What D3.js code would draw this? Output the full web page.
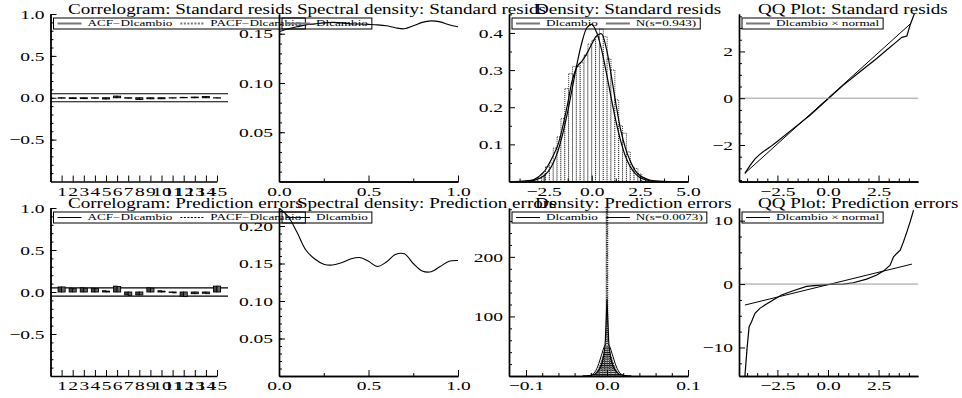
<!DOCTYPE html>
<html>
<head>
<meta charset="utf-8">
<script src="https://cdn.jsdelivr.net/npm/d3@7"></script>
<style>
  body { margin: 0; background: #fff; }
  svg { font-family: "Liberation Serif", "Times New Roman", serif; }
</style>
</head>
<body>
<svg id="chart" width="962" height="398"></svg>
<script>
// ---- data ----
const lags = [1, 2, 3, 4, 5, 6, 7, 8, 9, 10, 11, 12, 13, 14, 15];
const acfResids  = [-0.005, -0.010, -0.010, -0.005, -0.015, 0.020, -0.005, -0.020, -0.012, -0.012, -0.003, 0.005, 0.008, 0.015, -0.003];
const pacfResids = [-0.005, -0.010, -0.011, -0.006, -0.015, 0.019, -0.006, -0.021, -0.013, -0.012, -0.004, 0.004, 0.008, 0.014, -0.004];
const acfErrors  = [0.060, 0.045, 0.050, 0.045, 0.015, 0.070, -0.035, -0.035, 0.050, 0.015, -0.005, -0.050, -0.020, -0.015, 0.070];
const pacfErrors = [0.060, 0.040, 0.045, 0.040, 0.010, 0.065, -0.040, -0.035, 0.045, 0.010, -0.010, -0.055, -0.020, -0.020, 0.070];
const seBand = 0.048;

const freq = [0, 0.05, 0.10, 0.15, 0.20, 0.25, 0.30, 0.35, 0.40, 0.45, 0.50, 0.55, 0.60, 0.65, 0.70, 0.75, 0.80, 0.85, 0.90, 0.95, 1.00];
const specResids = [0.152, 0.155, 0.157, 0.159, 0.160, 0.161, 0.1615, 0.161, 0.160, 0.1599, 0.1595, 0.159, 0.158, 0.156, 0.155, 0.158, 0.1615, 0.163, 0.162, 0.159, 0.157];
const specErrors = [0.224, 0.213, 0.192, 0.168, 0.156, 0.149, 0.148, 0.151, 0.156, 0.158, 0.153, 0.146, 0.152, 0.162, 0.163, 0.150, 0.140, 0.139, 0.146, 0.153, 0.154];

const densGrid = [-4, -3.5, -3, -2.5, -2.25, -2, -1.75, -1.5, -1.25, -1, -0.75, -0.5, -0.25, 0, 0.25, 0.5, 0.75, 1, 1.25, 1.5, 1.75, 2, 2.25, 2.5, 3, 3.5, 4];
const kernelResids = [0.000, 0.001, 0.005, 0.025, 0.045, 0.070, 0.100, 0.150, 0.210, 0.275, 0.310, 0.325, 0.345, 0.370, 0.392, 0.398, 0.360, 0.290, 0.210, 0.140, 0.090, 0.055, 0.030, 0.016, 0.004, 0.001, 0.000];
const normalResids = [0.000, 0.0005, 0.003, 0.015, 0.028, 0.050, 0.083, 0.130, 0.188, 0.255, 0.321, 0.377, 0.414, 0.423, 0.402, 0.357, 0.295, 0.228, 0.164, 0.110, 0.068, 0.040, 0.022, 0.011, 0.002, 0.000, 0.000];
const histResidsMid = [-2.9, -2.7, -2.5, -2.3, -2.1, -1.9, -1.7, -1.5, -1.3, -1.1, -0.9, -0.7, -0.5, -0.3, -0.1, 0.1, 0.3, 0.5, 0.7, 0.9, 1.1, 1.3, 1.5, 1.7, 1.9, 2.1, 2.3, 2.5, 2.7, 2.9];
const histResids = [0.005, 0.010, 0.020, 0.040, 0.050, 0.090, 0.120, 0.170, 0.250, 0.290, 0.310, 0.310, 0.320, 0.340, 0.370, 0.380, 0.390, 0.410, 0.390, 0.330, 0.300, 0.220, 0.150, 0.130, 0.080, 0.040, 0.035, 0.020, 0.010, 0.005];
const histResidsWidth = 0.2;

const densGridErr = [-0.03, -0.025, -0.02, -0.0175, -0.015, -0.0125, -0.01, -0.0075, -0.006, -0.005, -0.004, -0.0025, -0.002, -0.001, 0, 0.001, 0.002, 0.0025, 0.004, 0.005, 0.006, 0.0075, 0.01, 0.0125, 0.015, 0.0175, 0.02, 0.025, 0.03];
const kernelErrors = [0, 0.3, 1, 2, 3, 6, 10, 16, 22, 28, 35, 50, 60, 95, 128, 95, 60, 50, 35, 28, 22, 16, 10, 6, 3, 2, 1, 0.3, 0];
const normalErrors = [0, 0.2, 1.3, 3.1, 6.6, 12.6, 21.4, 32.2, 38.5, 43.2, 47.5, 51.5, 52.5, 54.1, 54.6, 54.1, 52.5, 51.5, 47.5, 43.2, 38.5, 32.2, 21.4, 12.6, 6.6, 3.1, 1.3, 0.2, 0];
const histErrorsMid = [-0.018, -0.016, -0.014, -0.012, -0.010, -0.008, -0.006, -0.004, -0.002, 0, 0.002, 0.004, 0.006, 0.008, 0.010, 0.012, 0.014, 0.016, 0.018];
const histErrors = [4, 6, 9, 13, 18, 25, 33, 42, 50, 400, 48, 40, 31, 23, 16, 11, 7, 4, 2];
const histErrorsWidth = 0.002;

const qqResidsX = [-4.11, -3.86, -3.61, -3.37, -3.12, -2.87, -2.54, -1.72, -0.89, 0.02, 0.76, 1.58, 2.41, 2.90, 3.40, 3.65, 3.90, 4.06, 4.31];
const qqResidsY = [-3.21, -2.88, -2.59, -2.40, -2.23, -2.09, -1.87, -1.30, -0.73, -0.01, 0.56, 1.13, 1.70, 2.06, 2.42, 2.60, 2.66, 3.13, 3.70];
const qqResidsRefX = [-4.11, 4.10];
const qqResidsRefY = [-3.21, 3.20];
const qqErrorsX = [-4.11, -4.00, -3.90, -3.78, -3.61, -3.37, -3.12, -2.71, -2.30, -1.72, -1.06, -0.40, 0.10, 0.76, 1.25, 1.91, 2.41, 2.74, 3.07, 3.24, 3.40, 3.57, 3.73, 3.90, 4.06, 4.23];
const qqErrorsY = [-14.6, -10.1, -6.72, -5.93, -4.62, -3.83, -3.31, -2.52, -1.73, -1.05, -0.37, -0.16, -0.05, 0.00, 0.21, 0.79, 1.42, 2.05, 2.99, 4.30, 4.83, 5.35, 6.66, 8.24, 9.81, 11.65];
const qqErrorsRefX = [-4.11, 4.15];
const qqErrorsRefY = [-3.31, 3.15];

// ---- layout ----
const svg = d3.select("#chart");
const colX = [[50.5, 217], [279, 458], [509, 688], [739, 918]];
const rowY = [[181.5, 14], [376, 208]];
const titleX = [68, 297, 535, 758];          // titles start here, left aligned
const tickFont = 13, tickStretch = 1.5;      // the picture's type is wide and short
const titleFont = 14, titleStretch = 1.36;
const legFont = 8.6, legStretch = 1.53;

const defs = svg.append("defs");
const hatch = defs.append("pattern")
    .attr("id", "hatch").attr("patternUnits", "userSpaceOnUse")
    .attr("width", 4).attr("height", 2.2);
hatch.append("rect").attr("width", 4).attr("height", 2.2).attr("fill", "#fff");
hatch.append("line").attr("x1", 0).attr("x2", 4).attr("y1", 0.5).attr("y2", 0.5)
    .attr("stroke", "#000").attr("stroke-width", 1);

let clipId = 0;
function panel(col, row, xDomain, yDomain) {
    const x = d3.scaleLinear().domain(xDomain).range(colX[col]);
    const y = d3.scaleLinear().domain(yDomain).range(rowY[row]);
    const g = svg.append("g");
    const id = "clip" + (clipId++);
    defs.append("clipPath").attr("id", id).append("rect")
        .attr("x", colX[col][0]).attr("y", rowY[row][1])
        .attr("width", colX[col][1] - colX[col][0] + 12)
        .attr("height", rowY[row][0] - rowY[row][1]);
    const plot = g.append("g").attr("clip-path", `url(#${id})`);
    return {x, y, g, plot};
}

function styleAxis(sel) {
    sel.attr("font-family", null).attr("font-size", null);
    sel.select(".domain").attr("stroke", "#000").attr("stroke-width", 1.4);
    sel.selectAll(".tick line").attr("stroke", "#000").attr("stroke-width", 1);
    sel.selectAll(".tick text").attr("font-size", tickFont).attr("fill", "#000")
        .attr("transform", `scale(${tickStretch},1)`);
}

function axes(p, xMajor, xMinor, xFmt, yMajor, yMinor, yFmt) {
    const y0 = p.y.range()[0], x0 = p.x.range()[0];
    if (xMinor) p.g.append("g").attr("transform", `translate(0,${y0})`)
        .call(d3.axisBottom(p.x).tickValues(xMinor).tickSize(-3).tickSizeOuter(0).tickFormat(""))
        .call(styleAxis);
    p.g.append("g").attr("transform", `translate(0,${y0})`)
        .call(d3.axisBottom(p.x).tickValues(xMajor).tickSize(-6).tickSizeOuter(0).tickPadding(5).tickFormat(d3.format(xFmt)))
        .call(styleAxis);
    if (yMinor) p.g.append("g").attr("transform", `translate(${x0},0)`)
        .call(d3.axisLeft(p.y).tickValues(yMinor).tickSize(-3).tickSizeOuter(0).tickFormat(""))
        .call(styleAxis);
    p.g.append("g").attr("transform", `translate(${x0},0)`)
        .call(d3.axisLeft(p.y).tickValues(yMajor).tickSize(-6).tickSizeOuter(0).tickPadding(4).tickFormat(d3.format(yFmt)))
        .call(styleAxis);
}

function title(col, row, text) {
    svg.append("text")
        .attr("transform", `translate(${titleX[col]},${rowY[row][1] - 0.5}) scale(${titleStretch},1)`)
        .attr("font-size", titleFont).text(text);
}

// legend: items = [{text, dash, color, width}]
function legend(col, row, items) {
    const lx = colX[col][0] + 3, ly = rowY[row][1] + 4, h = 11;
    const lg = svg.append("g");
    const box = lg.append("rect").attr("x", lx).attr("y", ly).attr("height", h)
        .attr("fill", "none").attr("stroke", "#000").attr("stroke-width", 1);
    let cx = lx + 4;
    items.forEach(it => {
        lg.append("line").attr("x1", cx).attr("x2", cx + 24).attr("y1", ly + h / 2).attr("y2", ly + h / 2)
            .attr("stroke", it.color).attr("stroke-width", it.width)
            .attr("stroke-dasharray", it.dash || null);
        const t = lg.append("text")
            .attr("transform", `translate(${cx + 30},${ly + h - 2.6}) scale(${legStretch},1)`)
            .attr("font-size", legFont).text(it.text);
        cx += 30 + t.node().getComputedTextLength() * legStretch + 8;
    });
    box.attr("width", cx - lx - 4);
}

const line = (x, y) => d3.line().x(d => x(d[0])).y(d => y(d[1])).curve(d3.curveCatmullRom);
const straight = (x, y) => d3.line().x(d => x(d[0])).y(d => y(d[1]));

// ---- correlograms ----
function correlogram(row, acf, pacf, name) {
    const p = panel(0, row, [0, 15], [-1, 1]);
    [seBand, -seBand].forEach(v => {
        p.g.append("line").attr("x1", p.x(0)).attr("x2", p.x(15) + 11)
            .attr("y1", p.y(v)).attr("y2", p.y(v)).attr("stroke", "#000").attr("stroke-width", 1.2);
    });
    p.g.selectAll(null).data(lags).enter().append("rect")
        .attr("x", d => p.x(d - 0.32)).attr("width", p.x(0.32) - p.x(0))
        .attr("y", (d, i) => p.y(Math.max(0, acf[i])))
        .attr("height", (d, i) => Math.abs(p.y(acf[i]) - p.y(0)))
        .attr("fill", "#444").attr("stroke", "#000").attr("stroke-width", 0.9);
    p.g.selectAll(null).data(lags).enter().append("rect")
        .attr("x", d => p.x(d)).attr("width", p.x(0.32) - p.x(0))
        .attr("y", (d, i) => p.y(Math.max(0, pacf[i])))
        .attr("height", (d, i) => Math.abs(p.y(pacf[i]) - p.y(0)))
        .attr("fill", "#666").attr("stroke", "#000").attr("stroke-width", 0.9);
    axes(p, lags, null, "d", [-0.5, 0, 0.5, 1], d3.range(-0.9, 1.0001, 0.1).map(v => +v.toFixed(1)), ".1f");
    title(0, row, "Correlogram: " + name);
    const c = row === 0 ? "#777" : "#000", w = row === 0 ? 2 : 1;
    legend(0, row, [{text: "ACF\u2212Dlcambio", color: c, width: w},
                    {text: "PACF\u2212Dlcambio", color: c, width: w, dash: "2,1.5"}]);
}
correlogram(0, acfResids, pacfResids, "Standard resids");
correlogram(1, acfErrors, pacfErrors, "Prediction errors");

// ---- spectral densities ----
function spectral(row, vals, yMax, yMajor, name) {
    const p = panel(1, row, [0, 1], [0, yMax]);
    p.plot.append("path").datum(freq.map((f, i) => [f, vals[i]]))
        .attr("fill", "none").attr("stroke", "#000").attr("stroke-width", 1.1)
        .attr("d", line(p.x, p.y));
    axes(p, [0, 0.5, 1], [0.25, 0.75], ".1f", yMajor,
         d3.range(0.01, yMax, 0.01).map(v => +v.toFixed(2)), ".2f");
    title(1, row, "Spectral density: " + name);
    const c = row === 0 ? "#777" : "#000", w = row === 0 ? 2 : 1;
    legend(1, row, [{text: "Dlcambio", color: c, width: w}]);
}
spectral(0, specResids, 0.170, [0.05, 0.10, 0.15], "Standard resids");
spectral(1, specErrors, 0.224, [0.05, 0.10, 0.15, 0.20], "Prediction errors");

// ---- densities ----
{
    const p = panel(2, 0, [-4.3, 5.0], [0, 0.451]);
    p.plot.selectAll(null).data(histResidsMid).enter().append("rect")
        .attr("x", d => p.x(d - histResidsWidth / 2))
        .attr("width", p.x(histResidsWidth) - p.x(0))
        .attr("y", (d, i) => p.y(histResids[i]))
        .attr("height", (d, i) => p.y(0) - p.y(histResids[i]))
        .attr("fill", "#fff").attr("stroke", "#000").attr("stroke-width", 0.8)
        .attr("stroke-dasharray", "1,1");
    p.plot.append("path").datum(densGrid.map((v, i) => [v, normalResids[i]]))
        .attr("fill", "none").attr("stroke", "#000").attr("stroke-width", 1.2).attr("d", line(p.x, p.y));
    p.plot.append("path").datum(densGrid.map((v, i) => [v, kernelResids[i]]))
        .attr("fill", "none").attr("stroke", "#000").attr("stroke-width", 1.2).attr("d", line(p.x, p.y));
    axes(p, [-2.5, 0, 2.5, 5], [-3.75, -1.25, 1.25, 3.75], ".1f",
         [0.1, 0.2, 0.3, 0.4], [0.05, 0.15, 0.25, 0.35, 0.45], ".1f");
    title(2, 0, "Density: Standard resids");
    legend(2, 0, [{text: "Dlcambio", color: "#777", width: 2}, {text: "N(s=0.943)", color: "#777", width: 2}]);
}
{
    const p = panel(2, 1, [-0.121, 0.1], [0, 282]);
    p.plot.selectAll(null).data(histErrorsMid).enter().append("rect")
        .attr("x", d => p.x(d - histErrorsWidth / 2))
        .attr("width", p.x(histErrorsWidth) - p.x(0))
        .attr("y", (d, i) => p.y(histErrors[i]))
        .attr("height", (d, i) => p.y(0) - p.y(histErrors[i]))
        .attr("fill", "url(#hatch)").attr("stroke", "#000").attr("stroke-width", 0.8)
        .attr("stroke-dasharray", "1,1");
    p.plot.append("path").datum(densGridErr.map((v, i) => [v, normalErrors[i]]))
        .attr("fill", "none").attr("stroke", "#fff").attr("stroke-width", 2.5).attr("d", line(p.x, p.y));
    p.plot.append("path").datum(densGridErr.map((v, i) => [v, normalErrors[i]]))
        .attr("fill", "none").attr("stroke", "#000").attr("stroke-width", 1).attr("d", line(p.x, p.y));
    p.plot.append("path").datum(densGridErr.map((v, i) => [v, kernelErrors[i]]))
        .attr("fill", "none").attr("stroke", "#000").attr("stroke-width", 1.2).attr("d", straight(p.x, p.y));
    axes(p, [-0.1, 0, 0.1], [-0.08, -0.06, -0.04, -0.02, 0.02, 0.04, 0.06, 0.08], ".1f",
         [100, 200], [20, 40, 60, 80, 120, 140, 160, 180, 220, 240, 260, 280], "d");
    title(2, 1, "Density: Prediction errors");
    legend(2, 1, [{text: "Dlcambio", color: "#000", width: 1}, {text: "N(s=0.0073)", color: "#000", width: 1}]);
}

// ---- QQ plots ----
function qq(row, xs, ys, rx, ry, yDomain, yMajor, yMinor, name) {
    const p = panel(3, row, [-4.4, 4.45], yDomain);
    p.g.append("line").attr("x1", p.x(-4.4)).attr("x2", p.x(4.45))
        .attr("y1", p.y(0)).attr("y2", p.y(0)).attr("stroke", "#999").attr("stroke-width", 1);
    p.plot.append("path").datum(rx.map((v, i) => [v, ry[i]]))
        .attr("fill", "none").attr("stroke", "#000").attr("stroke-width", 1).attr("d", straight(p.x, p.y));
    p.plot.append("path").datum(xs.map((v, i) => [v, ys[i]]))
        .attr("fill", "none").attr("stroke", "#000").attr("stroke-width", 1.2).attr("d", straight(p.x, p.y));
    axes(p, [-2.5, 0, 2.5], [-4, -3.5, -3, -2, -1.5, -1, -0.5, 0.5, 1, 1.5, 2, 3, 3.5, 4], ".1f",
         yMajor, yMinor, "d");
    title(3, row, "QQ Plot: " + name);
    const c = row === 0 ? "#777" : "#000", w = row === 0 ? 2 : 1;
    legend(3, row, [{text: "Dlcambio \u00d7 normal", color: c, width: w}]);
}
qq(0, qqResidsX, qqResidsY, qqResidsRefX, qqResidsRefY, [-3.56, 3.6], [-2, 0, 2],
   [-3.5, -3, -2.5, -1.5, -1, -0.5, 0.5, 1, 1.5, 2.5, 3, 3.5], "Standard resids");
qq(1, qqErrorsX, qqErrorsY, qqErrorsRefX, qqErrorsRefY, [-14.5, 12], [-10, 0, 10],
   [-12.5, -7.5, -5, -2.5, 2.5, 5, 7.5], "Prediction errors");
</script>
</body>
</html>
